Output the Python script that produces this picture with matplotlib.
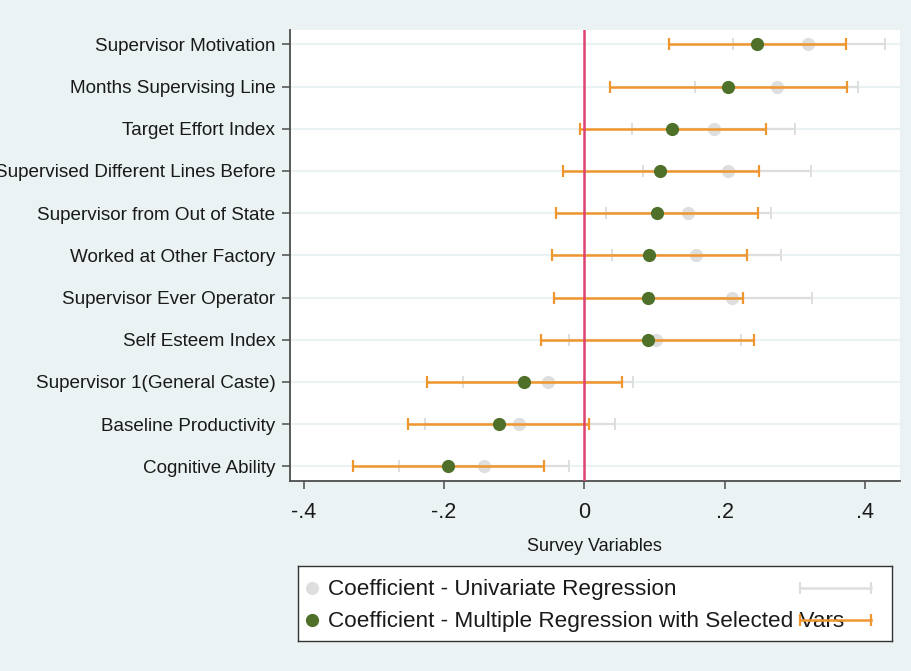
import matplotlib
matplotlib.use("Agg")
import matplotlib.pyplot as plt

plt.rcParams['font.family'] = ['Liberation Sans', 'DejaVu Sans']

# =============================================================================
# DATA (top row first)
# =============================================================================
labels = ["Supervisor Motivation", "Months Supervising Line", "Target Effort Index",
          "Supervised Different Lines Before", "Supervisor from Out of State",
          "Worked at Other Factory", "Supervisor Ever Operator", "Self Esteem Index",
          "Supervisor 1(General Caste)", "Baseline Productivity", "Cognitive Ability"]

uni_coef = [0.319, 0.274, 0.184, 0.204, 0.147, 0.159, 0.210, 0.102, -0.052, -0.093, -0.143]
uni_lo = [0.211, 0.157, 0.068, 0.084, 0.030, 0.039, 0.096, -0.022, -0.173, -0.227, -0.264]
uni_hi = [0.428, 0.390, 0.300, 0.323, 0.265, 0.280, 0.324, 0.223, 0.069, 0.043, -0.022]

multi_coef = [0.246, 0.204, 0.125, 0.108, 0.103, 0.092, 0.091, 0.091, -0.086, -0.122, -0.194]
multi_lo = [0.120, 0.036, -0.006, -0.031, -0.041, -0.046, -0.043, -0.062, -0.225, -0.251, -0.330]
multi_hi = [0.373, 0.374, 0.258, 0.248, 0.247, 0.231, 0.226, 0.242, 0.053, 0.006, -0.057]

x_ticks = [-0.4, -0.2, 0, 0.2, 0.4]
x_ticklabels = ["-.4", "-.2", "0", ".2", ".4"]

legend_labels = ["Coefficient - Univariate Regression",
                 "Coefficient - Multiple Regression with Selected Vars"]

# colours
BG = '#EAF2F3'
GREY = '#DEDEDE'
ORANGE = '#F0962E'
GREEN = '#4E7028'
ZERO = '#DE4272'
AXCOL = '#4d4d4d'

W, H = 912, 671
fig = plt.figure(figsize=(W / 100, H / 100), dpi=100)
fig.patch.set_facecolor(BG)

ax = fig.add_axes([290 / W, 1 - 480.7 / H, (899.7 - 290) / W, (480.7 - 30) / H])
ax.set_facecolor('white')

n = len(labels)
ypos = [n - i for i in range(n)]

for y in ypos:
    ax.axhline(y, color=BG, lw=1.5, zorder=0)

# univariate (grey) CI + dots
ax.errorbar(uni_coef, ypos,
            xerr=[[c - l for c, l in zip(uni_coef, uni_lo)], [h - c for c, h in zip(uni_coef, uni_hi)]],
            fmt='none', ecolor=GREY, elinewidth=1.6, capsize=4, capthick=1.4, zorder=2)
ax.plot(uni_coef, ypos, 'o', color=GREY, markersize=9.5, markeredgewidth=0, zorder=3)

# multiple regression (orange CI, green dots)
ax.errorbar(multi_coef, ypos,
            xerr=[[c - l for c, l in zip(multi_coef, multi_lo)], [h - c for c, h in zip(multi_coef, multi_hi)]],
            fmt='none', ecolor=ORANGE, elinewidth=1.8, capsize=4, capthick=1.6, zorder=4)
ax.axvline(0, color=ZERO, lw=1.8, zorder=5)
ax.plot(multi_coef, ypos, 'o', color=GREEN, markersize=9.5, markeredgewidth=0, zorder=6)

ax.set_xlim((290 - 584.5) / 702, (899.7 - 584.5) / 702)
ax.set_ylim(0.66, n + 0.34)

# the long label runs off the left edge, as in the original Stata export
ax.set_yticks(ypos)
ax.set_yticklabels(labels, fontsize=13.6, color='#1a1a1a')
ax.set_xticks(x_ticks)
ax.set_xticklabels(x_ticklabels, fontsize=15.5, color='#1a1a1a')
ax.tick_params(axis='y', length=5.5, width=1.1, color=AXCOL, pad=5)
ax.tick_params(axis='x', length=6, width=1.1, color=AXCOL, pad=9)
ax.set_xlabel("Survey Variables", fontsize=13, color='#1a1a1a', labelpad=11)

for s in ['top', 'right']:
    ax.spines[s].set_visible(False)
for s in ['left', 'bottom']:
    ax.spines[s].set_color(AXCOL)
    ax.spines[s].set_linewidth(1.3)

# =============================================================================
# LEGEND (drawn by hand, Stata style)
# =============================================================================
lx0, lx1, ly0, ly1 = 298, 892, 566, 641
lax = fig.add_axes([lx0 / W, 1 - ly1 / H, (lx1 - lx0) / W, (ly1 - ly0) / H])
lax.set_xlim(lx0, lx1)
lax.set_ylim(ly1, ly0)
lax.set_xticks([])
lax.set_yticks([])
lax.set_facecolor('white')
for s in lax.spines.values():
    s.set_color('#333333')
    s.set_linewidth(1.0)

rows_y = [588, 620]
dot_cols = [GREY, GREEN]
bar_cols = [GREY, ORANGE]
for yy, lab, dc, bc in zip(rows_y, legend_labels, dot_cols, bar_cols):
    lax.plot([312], [yy], 'o', color=dc, markersize=9.5, markeredgewidth=0, zorder=3)
    lax.text(328, yy + 2, lab, fontsize=16.2, color='#1a1a1a', va='center', ha='left', zorder=2)
    lax.plot([800, 871], [yy, yy], color=bc, lw=1.8, zorder=4)
    lax.plot([800, 871], [yy, yy], '|', color=bc, markersize=9, markeredgewidth=1.6, zorder=4)

fig.savefig("out.png", dpi=100, facecolor=fig.get_facecolor())
